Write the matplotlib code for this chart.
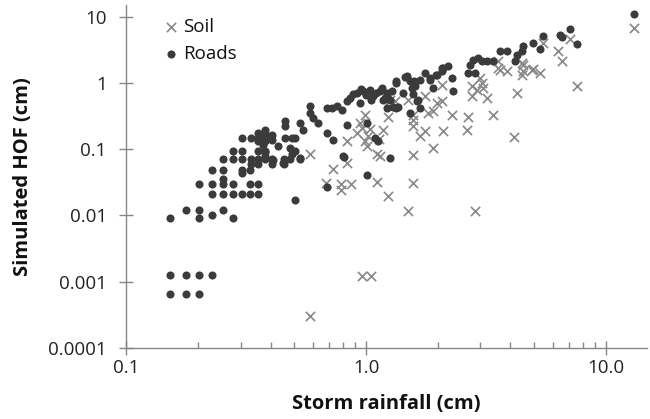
import matplotlib
matplotlib.use("Agg")
import matplotlib.pyplot as plt
from matplotlib.ticker import FixedLocator, FixedFormatter, LogLocator, NullFormatter

plt.rcParams['font.family'] = ['Open Sans', 'DejaVu Sans']

# Roads: storm rainfall (cm) vs simulated HOF (cm)
roads_rain = [
    0.152, 0.178, 0.202, 0.202, 0.228, 0.254, 0.280,
    0.152, 0.178, 0.202, 0.228,
    0.152, 0.178, 0.202,
    0.506, 0.686, 0.81, 1.01,
    0.202, 0.228, 0.254, 0.280, 0.329, 0.356,
    0.228, 0.254, 0.280, 0.305, 0.329, 0.356,
    0.254,
    0.228, 0.254, 0.305, 0.329,
    0.305,
    0.254, 0.280, 0.305, 0.332, 0.356, 0.380, 0.405, 0.455, 0.482, 0.531,
    0.332, 0.356, 0.405, 0.455,
    0.280, 0.305, 0.356, 0.380, 0.506,
    0.355, 0.380,
    0.305, 0.332, 0.356, 0.380,
    0.356, 0.380, 0.380,
    0.380, 0.380, 0.405, 0.405, 0.460, 0.460, 0.460, 0.490, 0.506, 0.531,
    0.548, 0.584, 0.584, 0.603, 0.633, 0.686, 0.720, 0.755, 0.792, 0.831,
    0.858, 0.915, 0.944, 0.974, 1.039, 1.073, 1.144, 1.220, 1.28, 1.34,
    0.686, 0.731, 0.831, 1.007, 1.09, 1.125, 0.373, 0.380, 0.411, 0.431,
    0.452, 0.482, 0.490, 0.531, 0.804, 1.259,
    1.34, 1.478, 1.525, 1.600, 1.679, 1.762, 1.848, 1.907, 1.970, 2.067,
    2.10, 2.20, 2.275, 2.31, 1.575, 1.626, 1.679, 1.525, 1.34,
    2.71, 2.80, 2.94, 3.03, 3.18, 2.67, 2.84, 3.39, 3.62, 3.86,
    4.24, 4.45, 4.52, 4.18,
    4.98, 5.31, 5.48, 6.43, 6.54, 7.08, 7.55, 13.1,
    1.0, 1.1, 1.17, 0.95, 1.05, 1.2, 0.88,
    1.45, 1.55, 1.59, 1.85, 1.95, 2.067, 1.43, 1.65, 1.22, 1.30,
    1.36, 1.18, 1.22, 1.26,
]
roads_hof = [
    0.0091, 0.0122, 0.0122, 0.0091, 0.0100, 0.0122, 0.0091,
    0.00126, 0.00126, 0.00126, 0.00126,
    0.00066, 0.00066, 0.00066,
    0.0173, 0.027, 0.076, 0.040,
    0.0294, 0.0294, 0.0294, 0.0294, 0.0294, 0.0294,
    0.0213, 0.0213, 0.0213, 0.0213, 0.0213, 0.0213,
    0.035,
    0.049, 0.049, 0.049, 0.049,
    0.044,
    0.071, 0.071, 0.071, 0.071, 0.071, 0.071, 0.071, 0.071, 0.071, 0.071,
    0.060, 0.060, 0.060, 0.060,
    0.093, 0.093, 0.093, 0.093, 0.093,
    0.177, 0.177,
    0.148, 0.148, 0.148, 0.148,
    0.131, 0.131, 0.089,
    0.197, 0.156, 0.166, 0.139, 0.263, 0.221, 0.148, 0.148, 0.148, 0.249,
    0.197, 0.443, 0.352, 0.296, 0.249, 0.419, 0.419, 0.443, 0.395, 0.527,
    0.594, 0.706, 0.499, 0.747, 0.792, 0.627, 0.747, 0.706, 0.747, 1.0,
    0.176, 0.139, 0.235, 0.249, 0.148, 0.131, 0.117, 0.078, 0.069, 0.110,
    0.062, 0.104, 0.083, 0.074, 0.078, 0.074,
    1.06, 1.26, 1.06, 0.89, 1.12, 1.42, 1.12, 0.84, 1.33, 1.50,
    1.68, 1.83, 1.19, 0.75, 0.67, 0.53, 0.42, 0.35, 0.42,
    1.89, 2.25, 2.38, 2.12, 2.12, 1.42, 1.42, 2.12, 3.0, 3.0,
    2.67, 3.0, 3.57, 2.12,
    4.02, 3.26, 5.06, 5.37, 4.95, 6.5, 3.88, 10.8,
    0.65, 0.7, 0.85, 0.8, 0.55, 0.6, 0.68,
    1.23, 0.84, 1.06, 1.2, 1.3, 1.68, 0.71, 0.56, 0.42, 0.44,
    0.43, 0.56, 0.63, 0.56,
]

# Soil
soil_rain = [
    13.1, 5.48, 7.08, 6.33, 6.54, 7.55, 4.52, 4.52, 4.98, 5.31,
    4.45, 4.94, 4.15,
    1.259, 1.32, 1.50, 1.762, 2.067, 1.970, 2.067, 1.818, 1.907, 2.275,
    2.67, 3.39, 1.575, 1.575, 1.575, 1.762, 1.679, 2.10, 2.63,
    2.76, 2.89, 3.03, 3.08, 3.18, 2.76, 3.56, 3.86, 4.24, 4.45,
    1.907, 3.56, 3.62, 2.98, 1.575, 1.575, 1.24, 1.50, 2.84, 1.144,
    0.731, 0.837, 0.681, 0.784, 0.784, 0.863, 1.115, 0.96, 1.045, 0.584,
    0.584, 1.107,
    0.837, 0.915, 0.96, 0.99, 1.007, 1.18, 1.24, 0.99, 0.944, 1.04,
    1.02, 1.13,
]
soil_hof = [
    6.8, 4.0, 4.6, 3.0, 2.12, 0.91, 1.89, 1.50, 1.64, 1.42,
    1.33, 1.59, 0.15,
    0.56, 0.53, 0.56, 0.63, 0.94, 0.50, 0.53, 0.35, 0.37, 0.33,
    0.31, 0.33, 0.33, 0.28, 0.22, 0.186, 0.156, 0.186, 0.197,
    0.63, 0.79, 1.0, 0.84, 0.59, 0.89, 1.68, 1.50, 0.71, 2.0,
    0.104, 2.12, 1.59, 1.19, 0.082, 0.031, 0.0195, 0.0118, 0.0115, 0.078,
    0.050, 0.062, 0.031, 0.030, 0.0245, 0.030, 0.0314, 0.0012, 0.0012, 0.0003,
    0.083, 0.083,
    0.131, 0.176, 0.21, 0.131, 0.11, 0.197, 0.31, 0.33, 0.249, 0.2,
    0.16, 0.14,
]

x_ticks = [0.1, 1.0, 10.0]
x_labels = ["0.1", "1.0", "10.0"]
y_ticks = [0.0001, 0.001, 0.01, 0.1, 1, 10]
y_labels = ["0.0001", "0.001", "0.01", "0.1", "1", "10"]

fig = plt.figure(figsize=(6.5, 4.19), dpi=100)
ax = fig.add_axes([0.194, 0.170, 0.801, 0.818])

ax.scatter(soil_rain, soil_hof, marker='x', s=44, linewidths=1.2,
           color='#888888', label='Soil', zorder=2)
ax.scatter(roads_rain, roads_hof, marker='o', s=34, linewidths=0,
           color='#3b3b3b', label='Roads', zorder=3)

ax.set_xscale('log')
ax.set_yscale('log')
ax.set_xlim(0.1, 14.8)
ax.set_ylim(0.0001, 15)

ax.xaxis.set_major_locator(FixedLocator(x_ticks))
ax.xaxis.set_major_formatter(FixedFormatter(x_labels))
ax.xaxis.set_minor_locator(LogLocator(base=10, subs=range(2, 10)))
ax.xaxis.set_minor_formatter(NullFormatter())
ax.yaxis.set_major_locator(FixedLocator(y_ticks))
ax.yaxis.set_major_formatter(FixedFormatter(y_labels))
ax.yaxis.set_minor_locator(FixedLocator([]))

for side in ['top', 'right']:
    ax.spines[side].set_visible(False)
for side in ['left', 'bottom']:
    ax.spines[side].set_color('#868686')
    ax.spines[side].set_linewidth(1.0)

ax.tick_params(axis='both', which='major', direction='inout', length=10,
               width=1.0, color='#868686', labelsize=13.5, labelcolor='#222222')
ax.tick_params(axis='y', which='major', pad=9)
ax.tick_params(axis='x', which='major', pad=3)
ax.tick_params(axis='x', which='minor', direction='in', length=4,
               width=1.0, color='#868686')

ax.set_xlabel("Storm rainfall (cm)", fontsize=14.5, fontweight='bold', color='#111111', labelpad=12)
ax.set_ylabel("Simulated HOF (cm)", fontsize=14.5, fontweight='bold', color='#111111', labelpad=11)

leg = ax.legend(loc='upper left', bbox_to_anchor=(0.05, 0.99), frameon=False,
                fontsize=13.5, handletextpad=0.15, borderaxespad=0.1,
                labelspacing=0.5, handlelength=1.0, scatterpoints=1)
for t in leg.get_texts():
    t.set_color('#111111')

fig.savefig("out.png", dpi=100)
